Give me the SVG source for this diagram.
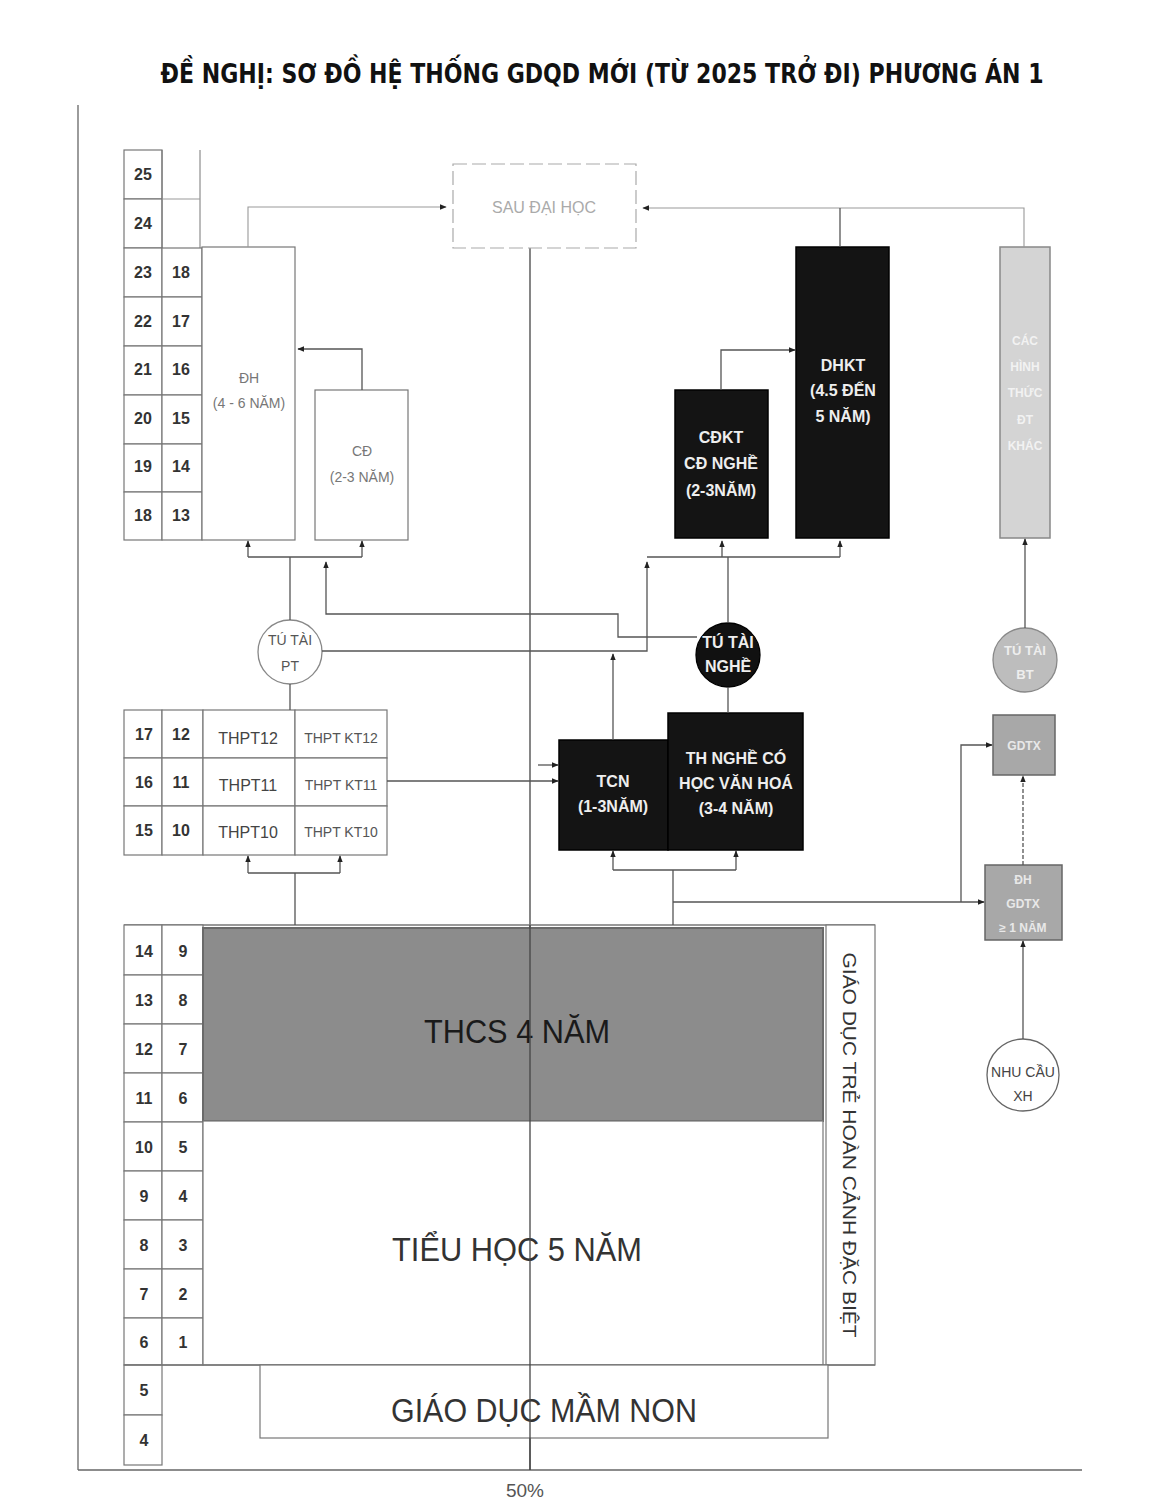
<svg xmlns="http://www.w3.org/2000/svg" width="1155" height="1500" viewBox="0 0 1155 1500">
<defs>
<marker id="ah" viewBox="0 0 10 10" refX="9" refY="5" markerWidth="7" markerHeight="7" orient="auto" markerUnits="userSpaceOnUse">
<path d="M0,1 L10,5 L0,9 z" fill="#222"/>
</marker>
</defs>
<style>
.t{font-family:"Liberation Sans",Arial,sans-serif;text-anchor:middle}
.num{font-family:"Liberation Sans",Arial,sans-serif;font-size:16px;font-weight:bold;fill:#333;text-anchor:middle}
.cell{fill:#fff;stroke:#777;stroke-width:1.2}
.ln{fill:none;stroke:#555;stroke-width:1.3}
.lnf{fill:none;stroke:#999;stroke-width:1.1}
.blk{fill:#141414;stroke:#000;stroke-width:1.5}
.wt{font-family:"Liberation Sans",Arial,sans-serif;font-weight:bold;fill:#eee;text-anchor:middle;font-size:16px}
.lt{font-family:"Liberation Sans",Arial,sans-serif;fill:#777;text-anchor:middle;font-size:14px}
</style>
<rect width="1155" height="1500" fill="#fff"/>
<text x="602" y="83" font-family="DejaVu Sans Condensed,DejaVu Sans,sans-serif" font-stretch="condensed" font-weight="bold" font-size="27" fill="#111" text-anchor="middle" textLength="883" lengthAdjust="spacingAndGlyphs">ĐỀ NGHỊ: SƠ ĐỒ HỆ THỐNG GDQD MỚI (TỪ 2025 TRỞ ĐI) PHƯƠNG ÁN 1</text>
<g id="axes">
<line x1="78" y1="105" x2="78" y2="1470" stroke="#666" stroke-width="1.3"/>
<line x1="78" y1="1470" x2="1082" y2="1470" stroke="#666" stroke-width="1.5"/>
<line x1="530" y1="248" x2="530" y2="1470" stroke="#444" stroke-width="1.3"/>
<text x="525" y="1497" class="t" font-size="19" fill="#555">50%</text>
</g>
<g id="age-upper">
<rect class="cell" x="124" y="150" width="38" height="49"/><text class="num" x="143" y="180">25</text>
<rect class="cell" x="124" y="199" width="38" height="49"/><text class="num" x="143" y="229">24</text>
<line x1="162" y1="150" x2="162" y2="248" stroke="#777"/><line x1="200" y1="150" x2="200" y2="248" stroke="#777"/>
<line x1="162" y1="199" x2="200" y2="199" stroke="#999"/>
<rect class="cell" x="124" y="248" width="38" height="49"/><rect class="cell" x="162" y="248" width="40" height="49"/><text class="num" x="143" y="278">23</text><text class="num" x="181" y="278">18</text>
<rect class="cell" x="124" y="297" width="38" height="49"/><rect class="cell" x="162" y="297" width="40" height="49"/><text class="num" x="143" y="327">22</text><text class="num" x="181" y="327">17</text>
<rect class="cell" x="124" y="346" width="38" height="49"/><rect class="cell" x="162" y="346" width="40" height="49"/><text class="num" x="143" y="375">21</text><text class="num" x="181" y="375">16</text>
<rect class="cell" x="124" y="395" width="38" height="49"/><rect class="cell" x="162" y="395" width="40" height="49"/><text class="num" x="143" y="424">20</text><text class="num" x="181" y="424">15</text>
<rect class="cell" x="124" y="444" width="38" height="48"/><rect class="cell" x="162" y="444" width="40" height="48"/><text class="num" x="143" y="472">19</text><text class="num" x="181" y="472">14</text>
<rect class="cell" x="124" y="492" width="38" height="48"/><rect class="cell" x="162" y="492" width="40" height="48"/><text class="num" x="143" y="521">18</text><text class="num" x="181" y="521">13</text>
</g>
<g id="dh">
<rect class="cell" x="202" y="247" width="93" height="293"/>
<text class="lt" x="249" y="383">ĐH</text>
<text class="lt" x="249" y="408">(4 - 6 NĂM)</text>
</g>
<g id="cd">
<rect class="cell" x="315" y="390" width="93" height="150"/>
<text class="lt" x="362" y="456">CĐ</text>
<text class="lt" x="362" y="482">(2-3 NĂM)</text>
</g>
<g id="sau-dai-hoc">
<rect x="453" y="164" width="183" height="84" fill="#fff" stroke="#aaa" stroke-width="1.2" stroke-dasharray="14,5"/>
<text class="t" x="544" y="213" font-size="16" fill="#aaa">SAU ĐẠI HỌC</text>
</g>
<g id="cdkt">
<rect class="blk" x="675" y="390" width="93" height="148"/>
<text class="wt" x="721" y="443">CĐKT</text>
<text class="wt" x="721" y="469">CĐ NGHỀ</text>
<text class="wt" x="721" y="496">(2-3NĂM)</text>
</g>
<g id="dhkt">
<rect class="blk" x="796" y="247" width="93" height="291"/>
<text class="wt" x="843" y="371">DHKT</text>
<text class="wt" x="843" y="396">(4.5 ĐẾN</text>
<text class="wt" x="843" y="422">5 NĂM)</text>
</g>
<g id="khac">
<rect x="1000" y="247" width="50" height="291" fill="#d4d4d4" stroke="#888" stroke-width="1.5"/>
<text class="t" x="1025" y="345" font-size="12" font-weight="bold" fill="#f2f2f2">CÁC</text>
<text class="t" x="1025" y="371" font-size="12" font-weight="bold" fill="#f2f2f2">HÌNH</text>
<text class="t" x="1025" y="397" font-size="12" font-weight="bold" fill="#f2f2f2">THỨC</text>
<text class="t" x="1025" y="424" font-size="12" font-weight="bold" fill="#f2f2f2">ĐT</text>
<text class="t" x="1025" y="450" font-size="12" font-weight="bold" fill="#f2f2f2">KHÁC</text>
</g>
<g id="tu-tai-pt">
<circle cx="290" cy="652" r="32" fill="#fff" stroke="#888" stroke-width="1.3"/>
<text class="t" x="290" y="645" font-size="14" fill="#555">TÚ TÀI</text>
<text class="t" x="290" y="671" font-size="14" fill="#555">PT</text>
</g>
<g id="tu-tai-nghe">
<circle cx="728" cy="655" r="32" fill="#111" stroke="#000" stroke-width="1.3"/>
<text class="wt" x="728" y="648" font-size="15">TÚ TÀI</text>
<text class="wt" x="728" y="672" font-size="15">NGHỀ</text>
</g>
<g id="tu-tai-bt">
<circle cx="1025" cy="660" r="32" fill="#bdbdbd" stroke="#888" stroke-width="1.3"/>
<text class="t" x="1025" y="655" font-size="13" font-weight="bold" fill="#eee">TÚ TÀI</text>
<text class="t" x="1025" y="679" font-size="13" font-weight="bold" fill="#eee">BT</text>
</g>
<g id="thpt">
<rect class="cell" x="124" y="710" width="38" height="48"/><rect class="cell" x="162" y="710" width="41" height="48"/><rect class="cell" x="203" y="710" width="92" height="48"/><rect class="cell" x="295" y="710" width="92" height="48"/>
<text class="num" x="144" y="740">17</text><text class="num" x="181" y="740">12</text>
<text class="t" x="248" y="744" font-size="16" fill="#444">THPT12</text><text class="t" x="341" y="743" font-size="14" fill="#555">THPT KT12</text>
<rect class="cell" x="124" y="758" width="38" height="48"/><rect class="cell" x="162" y="758" width="41" height="48"/><rect class="cell" x="203" y="758" width="92" height="48"/><rect class="cell" x="295" y="758" width="92" height="48"/>
<text class="num" x="144" y="788">16</text><text class="num" x="181" y="788">11</text>
<text class="t" x="248" y="791" font-size="16" fill="#444">THPT11</text><text class="t" x="341" y="790" font-size="14" fill="#555">THPT KT11</text>
<rect class="cell" x="124" y="806" width="38" height="49"/><rect class="cell" x="162" y="806" width="41" height="49"/><rect class="cell" x="203" y="806" width="92" height="49"/><rect class="cell" x="295" y="806" width="92" height="49"/>
<text class="num" x="144" y="836">15</text><text class="num" x="181" y="836">10</text>
<text class="t" x="248" y="838" font-size="16" fill="#444">THPT10</text><text class="t" x="341" y="837" font-size="14" fill="#555">THPT KT10</text>
</g>
<g id="tcn">
<rect class="blk" x="559" y="740" width="109" height="110"/>
<text class="wt" x="613" y="787">TCN</text>
<text class="wt" x="613" y="812">(1-3NĂM)</text>
</g>
<g id="th-nghe">
<rect class="blk" x="668" y="713" width="135" height="137"/>
<text class="wt" x="736" y="764">TH NGHỀ CÓ</text>
<text class="wt" x="736" y="789">HỌC VĂN HOÁ</text>
<text class="wt" x="736" y="814">(3-4 NĂM)</text>
</g>
<g id="gdtx">
<rect x="993" y="715" width="62" height="60" fill="#a8a8a8" stroke="#666" stroke-width="1.5"/>
<text class="t" x="1024" y="750" font-size="12" font-weight="bold" fill="#e8e8e8">GDTX</text>
</g>
<g id="dh-gdtx">
<rect x="985" y="865" width="77" height="75" fill="#a8a8a8" stroke="#666" stroke-width="1.5"/>
<text class="t" x="1023" y="884" font-size="12" font-weight="bold" fill="#e8e8e8">ĐH</text>
<text class="t" x="1023" y="908" font-size="12" font-weight="bold" fill="#e8e8e8">GDTX</text>
<text class="t" x="1023" y="932" font-size="12" font-weight="bold" fill="#e8e8e8">≥ 1 NĂM</text>
</g>
<g id="nhu-cau-xh">
<circle cx="1023" cy="1075" r="36" fill="#fff" stroke="#666" stroke-width="1.3"/>
<text class="t" x="1023" y="1077" font-size="14" fill="#444">NHU CẦU</text>
<text class="t" x="1023" y="1101" font-size="14" fill="#444">XH</text>
</g>
<g id="age-lower">
<line x1="124" y1="925" x2="875" y2="925" stroke="#777" stroke-width="1.3"/>
<rect class="cell" x="124" y="925" width="38" height="50"/><rect class="cell" x="162" y="925" width="41" height="50"/><text class="num" x="144" y="957">14</text><text class="num" x="183" y="957">9</text>
<rect class="cell" x="124" y="975" width="38" height="49"/><rect class="cell" x="162" y="975" width="41" height="49"/><text class="num" x="144" y="1006">13</text><text class="num" x="183" y="1006">8</text>
<rect class="cell" x="124" y="1024" width="38" height="49"/><rect class="cell" x="162" y="1024" width="41" height="49"/><text class="num" x="144" y="1055">12</text><text class="num" x="183" y="1055">7</text>
<rect class="cell" x="124" y="1073" width="38" height="49"/><rect class="cell" x="162" y="1073" width="41" height="49"/><text class="num" x="144" y="1104">11</text><text class="num" x="183" y="1104">6</text>
<rect class="cell" x="124" y="1122" width="38" height="49"/><rect class="cell" x="162" y="1122" width="41" height="49"/><text class="num" x="144" y="1153">10</text><text class="num" x="183" y="1153">5</text>
<rect class="cell" x="124" y="1171" width="38" height="49"/><rect class="cell" x="162" y="1171" width="41" height="49"/><text class="num" x="144" y="1202">9</text><text class="num" x="183" y="1202">4</text>
<rect class="cell" x="124" y="1220" width="38" height="49"/><rect class="cell" x="162" y="1220" width="41" height="49"/><text class="num" x="144" y="1251">8</text><text class="num" x="183" y="1251">3</text>
<rect class="cell" x="124" y="1269" width="38" height="49"/><rect class="cell" x="162" y="1269" width="41" height="49"/><text class="num" x="144" y="1300">7</text><text class="num" x="183" y="1300">2</text>
<rect class="cell" x="124" y="1318" width="38" height="47"/><rect class="cell" x="162" y="1318" width="41" height="47"/><text class="num" x="144" y="1348">6</text><text class="num" x="183" y="1348">1</text>
<rect class="cell" x="124" y="1365" width="38" height="50"/><text class="num" x="144" y="1396">5</text>
<rect class="cell" x="124" y="1415" width="38" height="50"/><text class="num" x="144" y="1446">4</text>
</g>
<g id="thcs">
<rect x="203" y="928" width="620" height="193" fill="#8c8c8c" stroke="#6a6a6a" stroke-width="2"/>
<text class="t" x="517" y="1043" font-size="34" fill="#1a1a1a" textLength="186" lengthAdjust="spacingAndGlyphs">THCS 4 NĂM</text>
</g>
<g id="tieu-hoc">
<rect x="203" y="1121" width="620" height="244" fill="#fff" stroke="#777" stroke-width="1.2"/>
<text class="t" x="517" y="1261" font-size="33" fill="#333" textLength="250" lengthAdjust="spacingAndGlyphs">TIỂU HỌC 5 NĂM</text>
</g>
<g id="dac-biet">
<rect x="826" y="925" width="49" height="440" fill="#fff" stroke="#777" stroke-width="1.2"/>
<text class="t" transform="translate(843,1145) rotate(90)" font-size="19" fill="#333" textLength="385" lengthAdjust="spacingAndGlyphs">GIÁO DỤC TRẺ HOÀN CẢNH ĐẶC BIỆT</text>
</g>
<g id="mam-non">
<line x1="124" y1="1365" x2="875" y2="1365" stroke="#777" stroke-width="1.3"/>
<rect x="260" y="1365" width="568" height="73" fill="#fff" stroke="#777" stroke-width="1.2"/>
<text class="t" x="544" y="1422" font-size="33" fill="#333" textLength="306" lengthAdjust="spacingAndGlyphs">GIÁO DỤC MẦM NON</text>
</g>
<line x1="530" y1="925" x2="530" y2="1470" stroke="#444" stroke-width="1.3"/>
<g id="connectors">
<path class="lnf" d="M248,247 V207 H446" marker-end="url(#ah)"/>
<path class="lnf" d="M1024,247 V208 H643" marker-end="url(#ah)"/>
<path class="ln" d="M840,247 V208"/>
<path class="ln" d="M362,390 V349 H298" marker-end="url(#ah)"/>
<path class="ln" d="M721,390 V350 H795" marker-end="url(#ah)"/>
<path class="ln" d="M248,557 H362"/>
<path class="ln" d="M248,557 V541" marker-end="url(#ah)"/>
<path class="ln" d="M362,557 V541" marker-end="url(#ah)"/>
<path class="ln" d="M290,557 V620"/>
<path class="ln" d="M290,684 V710"/>
<path class="ln" d="M697,637 H618 V614 H326 V562" marker-end="url(#ah)"/>
<path class="ln" d="M322,651 H647 V562" marker-end="url(#ah)"/>
<path class="ln" d="M647,557 H840"/>
<path class="ln" d="M722,557 V541" marker-end="url(#ah)"/>
<path class="ln" d="M840,557 V541" marker-end="url(#ah)"/>
<path class="ln" d="M728,623 V557"/>
<path class="ln" d="M728,687 V713"/>
<path class="ln" d="M613,740 V654" marker-end="url(#ah)"/>
<path class="ln" d="M387,781 H558" marker-end="url(#ah)"/>
<path class="ln" d="M538,765 H558" marker-end="url(#ah)"/>
<path class="ln" d="M295,925 V873 M248,873 H340"/>
<path class="ln" d="M248,873 V856" marker-end="url(#ah)"/>
<path class="ln" d="M340,873 V856" marker-end="url(#ah)"/>
<path class="ln" d="M613,870 H736"/>
<path class="ln" d="M613,870 V851" marker-end="url(#ah)"/>
<path class="ln" d="M736,870 V851" marker-end="url(#ah)"/>
<path class="ln" d="M673,870 V925"/>
<path class="ln" d="M673,902 H984" marker-end="url(#ah)"/>
<path class="ln" d="M961,902 V745 H992" marker-end="url(#ah)"/>
<path class="ln" d="M1023,865 V776" stroke-dasharray="4,2" marker-end="url(#ah)"/>
<path class="ln" d="M1023,1039 V941" marker-end="url(#ah)"/>
<path class="ln" d="M1025,628 V539" marker-end="url(#ah)"/>
</g>
</svg>
